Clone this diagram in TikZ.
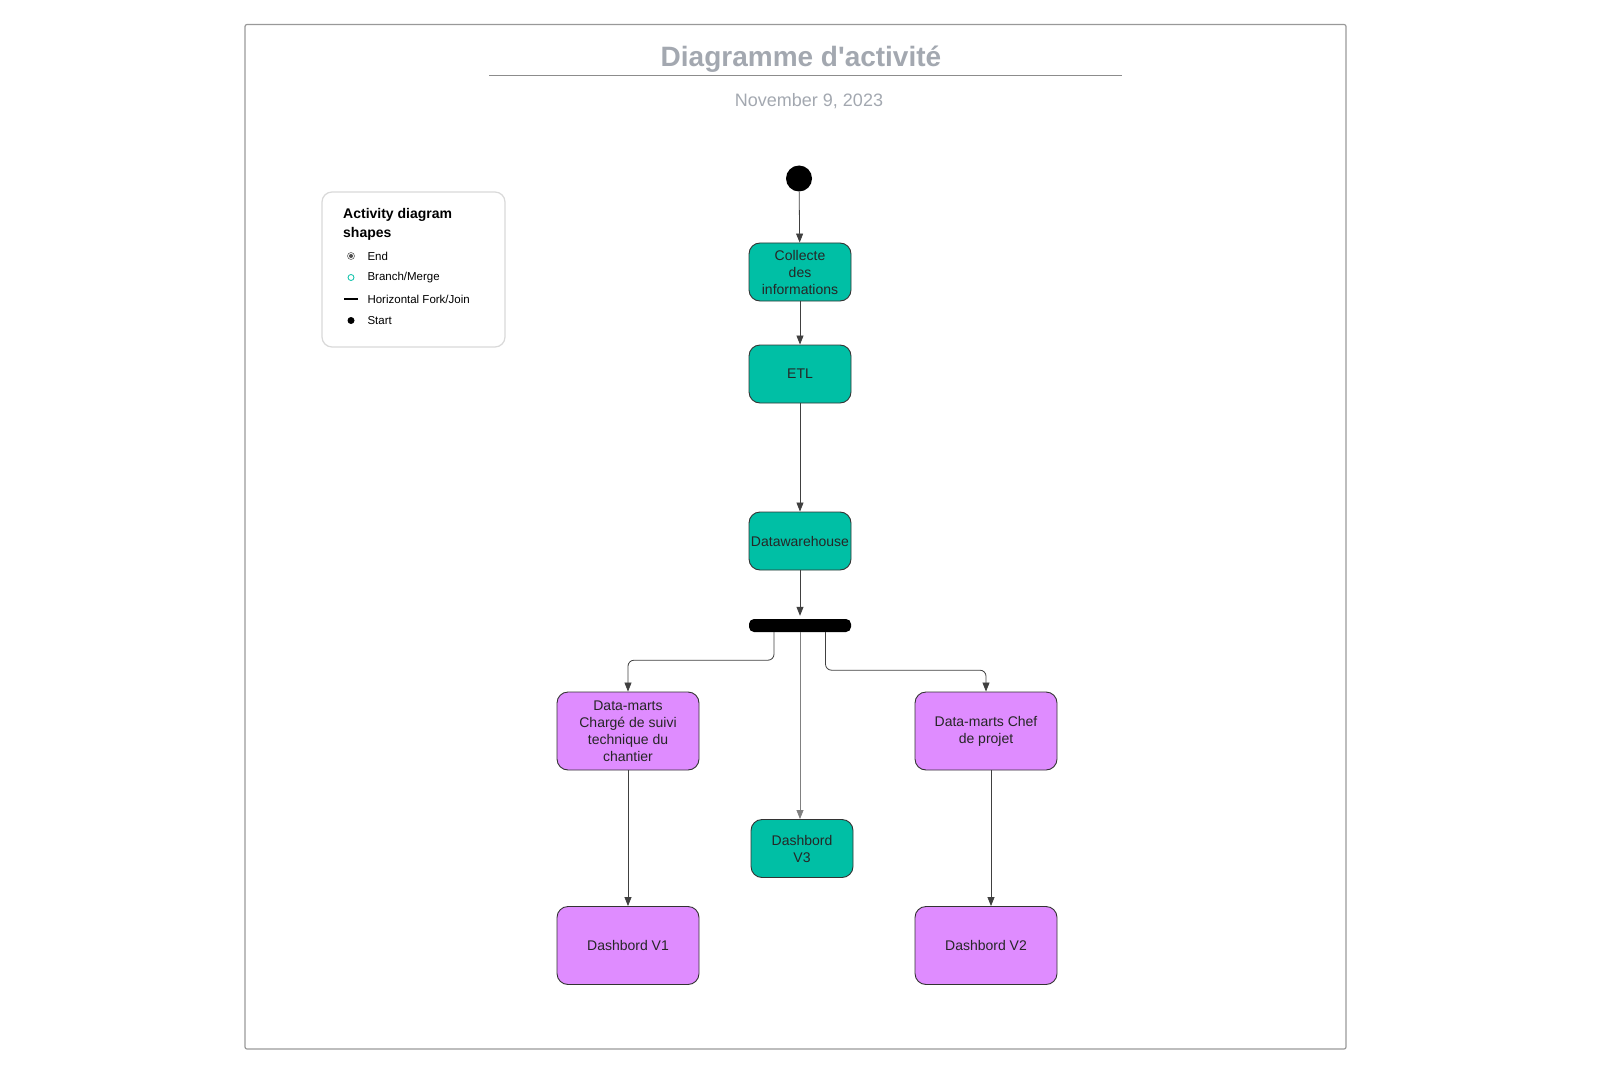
\documentclass[tikz,border=0pt]{standalone}
\usepackage{fontspec}
\setmainfont{Liberation Sans}
\usetikzlibrary{arrows.meta}
\definecolor{teal1}{HTML}{00BFA5}
\definecolor{mauve1}{HTML}{DF8CFF}
\definecolor{greytxt}{HTML}{A3A8B0}
\tikzset{
    act/.style={draw=black!80, line width=0.9pt, rounded corners=11pt, align=center,
        font=\fontsize{14}{17}\selectfont, text=black!85, inner sep=0pt},
    green act/.style={act, fill=teal1, minimum width=102pt, minimum height=58pt},
    mauve act/.style={act, fill=mauve1, minimum width=142pt, minimum height=78pt},
    flow/.style={draw=black!75, line width=0.8pt, -{Triangle[length=9pt,width=7pt]}},
    legtext/.style={anchor=west, font=\fontsize{11.5}{13}\selectfont}
}
\begin{document}
\begin{tikzpicture}[x=1pt, y=-1pt]
    \useasboundingbox (0,0) rectangle (1600,1075);
    % frame and title
    \draw[black!40, line width=1.2pt, rounded corners=2pt] (245,24.5) rectangle (1346,1049);
    \node[text=greytxt, font=\fontsize{28}{32}\selectfont\bfseries] (title) at (801,59) {Diagramme d\textquotesingle activité};
    \draw[black!45, line width=1pt] (489,75.5) -- (1122,75.5);
    \node[text=greytxt, font=\fontsize{18}{21}\selectfont] (date) at (809,101) {November 9, 2023};
    % legend
    \draw[black!15, line width=1.2pt, rounded corners=10pt, fill=white] (322,192) rectangle (505,347);
    \node[anchor=north west, align=left, font=\fontsize{14}{19}\selectfont\bfseries, inner sep=0pt] (legtitle) at (343,208) {Activity diagram\\shapes};
    \draw[black!60, fill=white, line width=0.6pt] (351,256) circle (3.5pt);
    \fill[black!70] (351,256) circle (2pt);
    \node[legtext] (legend) at (364,256) {End};
    \draw[teal1, line width=0.8pt] (351,277.5) circle (3pt);
    \node[legtext] (legbranch) at (364,277.5) {Branch/Merge};
    \draw[black, line width=2pt] (344,299) -- (358,299);
    \node[legtext] (legfork) at (364,299) {Horizontal Fork/Join};
    \fill[black] (351,320.5) circle (3.5pt);
    \node[legtext] (legstart) at (364,320.5) {Start};
    % activities
    \node[circle, fill=black, minimum size=26pt, inner sep=0pt] (start) at (799,178.5) {};
    \node[green act] (collecte) at (800,272) {Collecte\\des\\informations};
    \node[green act] (etl) at (800,374) {ETL};
    \node[green act] (dw) at (800,541) {Datawarehouse};
    \node[fill=black, rounded corners=5pt, minimum width=102pt, minimum height=13pt, inner sep=0pt] (fork) at (800,625.5) {};
    \node[mauve act] (dmsuivi) at (628,731) {Data-marts\\Chargé de suivi\\technique du\\chantier};
    \node[mauve act] (dmchef) at (986,731) {Data-marts Chef\\de projet};
    \node[green act] (v3) at (802,848.5) {Dashbord\\V3};
    \node[mauve act] (v1) at (628,945.5) {Dashbord V1};
    \node[mauve act] (v2) at (986,945.5) {Dashbord V2};
    % connectors
    \draw[flow] (start) -- (collecte);
    \draw[flow] (collecte) -- (etl);
    \draw[flow] (etl) -- (dw);
    \draw[flow] (dw.south -| fork.north) -- ([yshift=3pt]fork.north);
    \draw[flow, rounded corners=6pt] ([xshift=-26pt]fork.south) -- ++(0,28) -| (dmsuivi.north);
    \draw[flow, rounded corners=6pt] ([xshift=25.5pt]fork.south) -- ++(0,38) -| (dmchef.north);
    \draw[flow, draw=black!50] (fork.south) -- (fork.south |- v3.north);
    \draw[flow] (dmsuivi) -- (v1);
    \draw[flow] ([xshift=5pt]dmchef.south) -- ([xshift=5pt]v2.north);
\end{tikzpicture}
\end{document}
